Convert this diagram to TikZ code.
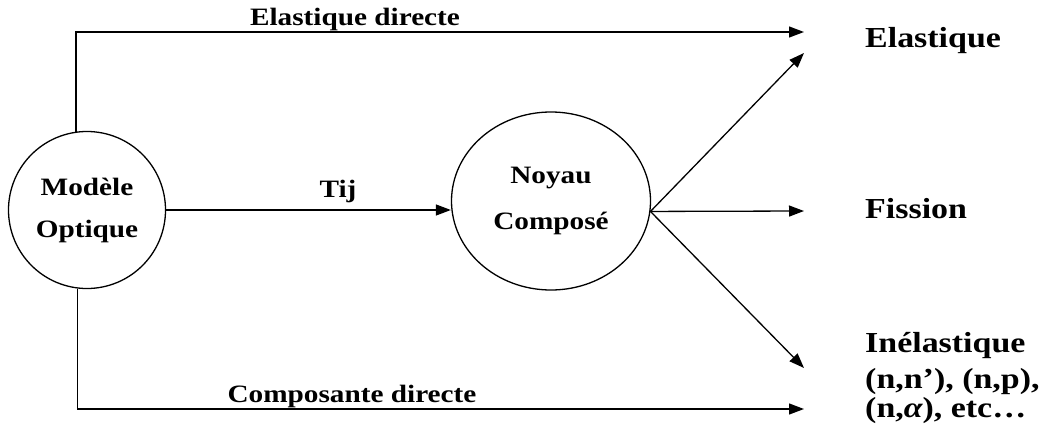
\documentclass[tikz,border=0pt]{standalone}
\usepackage{fontspec}
\setmainfont{Liberation Serif}[FakeStretch=1.17]
\usetikzlibrary{arrows.meta,shapes.geometric}
\tikzset{
  conn/.style={line width=1.3pt},
  arr/.style={conn,-{Triangle[length=15pt,width=11pt]}},
  lbl/.style={font=\bfseries\fontsize{25}{30}\selectfont,inner sep=0pt},
  outl/.style={font=\bfseries\fontsize{29}{34}\selectfont,inner sep=0pt,anchor=base west},
  bub/.style={draw,line width=1.3pt,align=center,font=\bfseries\fontsize{25}{42}\selectfont}
}
\begin{document}
\begin{tikzpicture}[x=1pt,y=-1pt]
\useasboundingbox (0,0) rectangle (1046,425);
\node[bub,circle,minimum size=157pt,inner sep=0pt] (mo) at (87,210) {Modèle\\Optique};
\node[bub,ellipse,minimum width=199pt,minimum height=178pt,inner sep=0pt] (nc) at (551,201) {Noyau\\[4pt]Composé};
\coordinate (t1) at (804,32);
\coordinate (t2) at (804,53);
\coordinate (t3) at (804,211);
\coordinate (t4) at (804,368);
\coordinate (t5) at (804,409);
\draw[arr] (mo.98) |- (t1);
\draw[arr] (mo.263) |- (t5);
\draw[arr] (mo.east) -- (nc.west |- mo.east);
\draw[arr] (nc.-6) -- (t2);
\draw[arr] (nc.-6) -- (t3);
\draw[arr] (nc.-6) -- (t4);
\node[lbl,anchor=base] (led) at (355,26) {Elastique directe};
\node[lbl,anchor=base] (ltij) at (338,197) {Tij};
\node[lbl,anchor=base] (lcd) at (352,402) {Composante directe};
\node[outl] (oel) at (865,48) {Elastique};
\node[outl] (ofi) at (865,218) {Fission};
\node[outl] (oin) at (865,352) {Inélastique};
\node[outl] (oin2) at (865,388) {(n,n’), (n,p),};
\node[outl] (oin3) at (865,417) {(n,{\itshape α}), etc…};
\end{tikzpicture}
\end{document}
